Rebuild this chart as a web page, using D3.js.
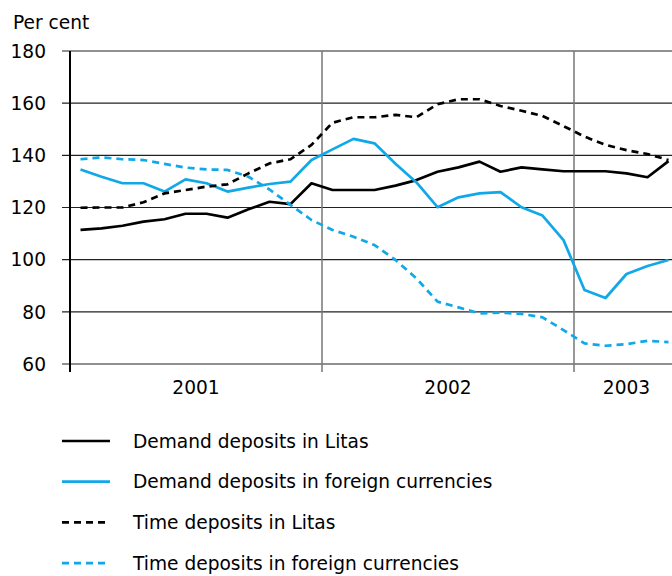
<!DOCTYPE html>
<html>
<head>
<meta charset="utf-8">
<script src="https://cdn.jsdelivr.net/npm/d3@7"></script>
<style>
  html, body { margin: 0; padding: 0; background: #fff; }
  svg { display: block; font-family: "DejaVu Sans", Verdana, sans-serif; }
</style>
</head>
<body>
<script>
// months Jan 2001 .. May 2003
const months = d3.range(29);
const years = ["2001", "2002", "2003"];
const yearStarts = [0, 12, 24];
const yTicks = [60, 80, 100, 120, 140, 160, 180];

const demandLitas = [111.4, 112.0, 113.0, 114.6, 115.5, 117.6, 117.6, 116.1, 119.3, 122.2, 121.3, 129.3,
  126.7, 126.7, 126.7, 128.4, 130.5, 133.7, 135.4, 137.6, 133.7, 135.4, 134.6, 133.9,
  133.9, 133.9, 133.1, 131.6, 137.8];
const demandForeign = [134.6, 131.8, 129.3, 129.3, 126.1, 130.8, 129.3, 126.1, 127.6, 129.0, 129.9, 138.2,
  142.3, 146.3, 144.6, 136.8, 129.6, 120.1, 123.9, 125.4, 125.9, 120.1, 116.9, 107.5,
  88.4, 85.3, 94.5, 97.6, 99.9];
const timeLitas = [119.9, 120.0, 120.0, 122.0, 125.4, 126.7, 128.0, 128.9, 133.1, 136.9, 138.5, 144.0,
  152.5, 154.6, 154.6, 155.5, 154.6, 159.6, 161.5, 161.5, 158.9, 157.1, 155.1, 151.2,
  147.2, 144.0, 142.0, 140.5, 138.2];
const timeForeign = [138.5, 139.2, 138.5, 138.2, 136.7, 135.3, 134.6, 134.4, 131.8, 126.9, 121.0, 115.2,
  111.4, 108.8, 105.6, 99.9, 92.8, 83.9, 81.7, 79.4, 79.7, 79.2, 77.9, 73.0,
  67.9, 67.0, 67.6, 68.9, 68.4];

const seriesNames = ["Demand deposits in Litas", "Demand deposits in foreign currencies",
  "Time deposits in Litas", "Time deposits in foreign currencies"];

const blue = "#10a8e8";
const series = [
  {name: seriesNames[0], values: demandLitas, color: "#000", dash: null},
  {name: seriesNames[1], values: demandForeign, color: blue, dash: null},
  {name: seriesNames[2], values: timeLitas, color: "#000", dash: "7,5"},
  {name: seriesNames[3], values: timeForeign, color: blue, dash: "7,5"}
];

const W = 672, H = 576;
const padL = 70, padR = 679, padT = 51, padB = 364;
const fs = 18.6;

const svg = d3.select("body").append("svg").attr("width", W).attr("height", H);

const x = d3.scaleLinear().domain([-0.5, 28.5]).range([padL, padR]);
const y = d3.scaleLinear().domain([60, 180]).range([padB, padT]);

// horizontal grid
svg.append("g").selectAll("line")
  .data(yTicks)
  .enter().append("line")
  .attr("x1", padL - 8).attr("x2", W)
  .attr("y1", d => y(d)).attr("y2", d => y(d))
  .attr("stroke", "#222").attr("stroke-width", 1.2);

// year separators
svg.append("g").selectAll("line")
  .data(yearStarts)
  .enter().append("line")
  .attr("x1", d => x(d - 0.5)).attr("x2", d => x(d - 0.5))
  .attr("y1", padT).attr("y2", padB + 8)
  .attr("stroke", d => d === 0 ? "#000" : "#777")
  .attr("stroke-width", d => d === 0 ? 2 : 1.5);

// y labels
svg.append("g").selectAll("text")
  .data(yTicks)
  .enter().append("text")
  .attr("x", 46).attr("y", d => y(d))
  .attr("dy", "0.36em")
  .attr("text-anchor", "end")
  .attr("font-size", fs)
  .text(d => d);

svg.append("text").attr("x", 13).attr("y", 29).attr("font-size", fs).text("Per cent");

// year labels
const yearMid = [5.5, 17.5, 26];
svg.append("g").selectAll("text")
  .data(years)
  .enter().append("text")
  .attr("x", (d, i) => x(yearMid[i]))
  .attr("y", 394)
  .attr("text-anchor", "middle")
  .attr("font-size", fs)
  .text(d => d);

const line = d3.line().x((d, i) => x(months[i])).y(d => y(d));

svg.append("g").selectAll("path")
  .data(series)
  .enter().append("path")
  .attr("d", s => line(s.values))
  .attr("fill", "none")
  .attr("stroke", s => s.color)
  .attr("stroke-width", 2.7)
  .attr("stroke-dasharray", s => s.dash)
  .attr("stroke-linejoin", "round");

// legend
const legend = svg.append("g").selectAll("g")
  .data(series)
  .enter().append("g")
  .attr("transform", (s, i) => "translate(0," + (441 + i * 40.7) + ")");

legend.append("line")
  .attr("x1", 62).attr("x2", 110)
  .attr("stroke", s => s.color)
  .attr("stroke-width", 2.7)
  .attr("stroke-dasharray", s => s.dash ? "7,5" : null);

legend.append("text")
  .attr("x", 133).attr("dy", "0.36em")
  .attr("font-size", fs)
  .text(s => s.name);
</script>
</body>
</html>
